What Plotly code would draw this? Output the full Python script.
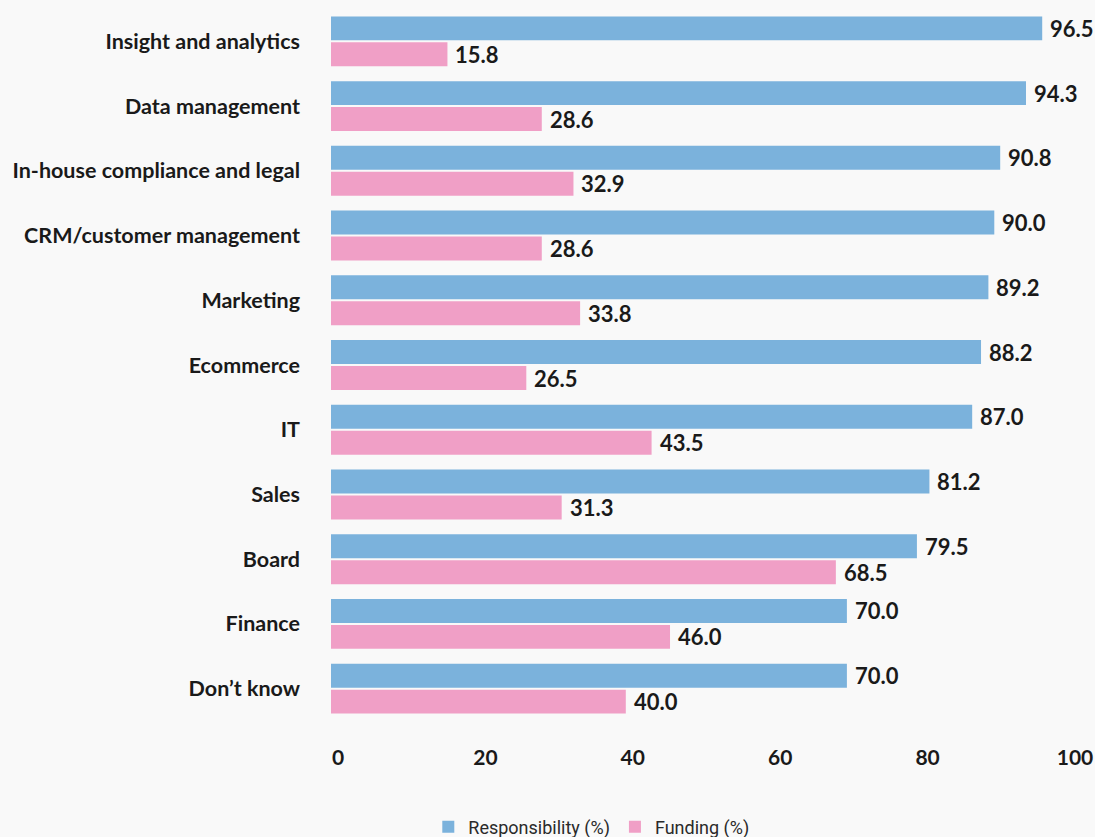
import plotly.graph_objects as go

# Survey data: share of respondents per business function
categories = [
    "Insight and analytics",
    "Data management",
    "In-house compliance and legal",
    "CRM/customer management",
    "Marketing",
    "Ecommerce",
    "IT",
    "Sales",
    "Board",
    "Finance",
    "Don\u2019t know",
]
responsibility = [96.5, 94.3, 90.8, 90.0, 89.2, 88.2, 87.0, 81.2, 79.5, 70.0, 70.0]
funding = [15.8, 28.6, 32.9, 28.6, 33.8, 26.5, 43.5, 31.3, 68.5, 46.0, 40.0]
x_ticks = [0, 20, 40, 60, 80, 100]

BLUE = "#7bb2dc"
PINK = "#f09fc6"
TEXT = "#1a1a1a"
BOLD_FONT = "Lato, 'Open Sans', sans-serif"
LEGEND_FONT = "'Liberation Sans Narrow', 'Roboto', sans-serif"

fig = go.Figure()
fig.add_trace(go.Bar(
    y=categories, x=responsibility, orientation="h",
    name="Responsibility (%)", marker=dict(color=BLUE, line=dict(width=0)),
))
fig.add_trace(go.Bar(
    y=categories, x=funding, orientation="h",
    name="Funding (%)", marker=dict(color=PINK, line=dict(width=0)),
))

# value labels just past the end of each bar
for cat, r, f in zip(categories, responsibility, funding):
    for val, shift in ((r, 13), (f, -13)):
        fig.add_annotation(
            x=val, y=cat, xref="x", yref="y", text=f"{val:.1f}",
            showarrow=False, xanchor="left", yanchor="middle",
            xshift=6, yshift=shift,
            font=dict(family=BOLD_FONT, size=22, color=TEXT, weight="bold"),
        )

fig.update_layout(
    width=1095, height=837,
    margin=dict(l=331, r=27, t=9, b=116, autoexpand=False),
    paper_bgcolor="#f9f9f9",
    plot_bgcolor="rgba(0,0,0,0)",
    barmode="group",
    bargap=0.198,
    bargroupgap=0.077,
    showlegend=True,
    legend=dict(
        orientation="h", xref="container", yref="container",
        x=0.54, y=0.012, xanchor="center", yanchor="middle",
        font=dict(family=LEGEND_FONT, size=18, color="#2a2a2a"),
        itemwidth=30, traceorder="normal", bgcolor="rgba(0,0,0,0)",
    ),
    xaxis=dict(
        range=[0, 100], tickvals=x_ticks, ticktext=[str(t) for t in x_ticks],
        showgrid=False, zeroline=False, showline=False,
        ticks="", ticklabelstandoff=22, ticklabelshift=7,
        tickfont=dict(family=BOLD_FONT, size=21, color=TEXT, weight="bold"),
    ),
    yaxis=dict(
        autorange="reversed", showgrid=False, zeroline=False, showline=False,
        ticks="", ticklabelstandoff=30,
        tickfont=dict(family=BOLD_FONT, size=21.5, color=TEXT, weight="bold"),
    ),
)

fig.write_html("out.html")
